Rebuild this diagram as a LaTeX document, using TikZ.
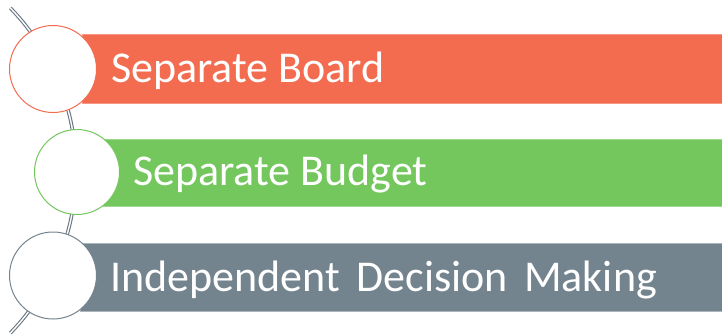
\documentclass[tikz,border=0pt]{standalone}
\usepackage{fontspec}
\setmainfont{Carlito}
\usetikzlibrary{calc}
\definecolor{cOrange}{RGB}{243,108,80}
\definecolor{cGreen}{RGB}{115,199,93}
\definecolor{cGray}{RGB}{116,132,142}
\definecolor{cLine}{RGB}{105,118,130}
\begin{document}
\begin{tikzpicture}[x=1pt,y=-1pt,
  bar/.style={rectangle, anchor=north west, inner sep=0pt, minimum height=#1, line width=0.4pt},
  dot/.style={circle, inner sep=0pt, minimum size=87pt, fill=white, line width=1pt, draw=#1},
  label/.style={anchor=base west, inner sep=0pt, text=white, font=\fontsize{44}{50}\selectfont},
  spine/.style={draw=cLine, line width=1.1pt, double=white, double distance=1.4pt}]
\useasboundingbox (0,0) rectangle (722,335);
% spine arc
\coordinate (ctr) at (-158,170.5);
\coordinate (top) at ($(ctr)+(-44:234)$);
\draw[spine] (top) arc[start angle=-44, end angle=44, radius=234] coordinate (bottom);
% bars
\node[bar=69pt, minimum width=640pt, fill=cOrange, draw=cOrange!70!white] (b1) at (82,34) {};
\node[bar=67pt, minimum width=619pt, fill=cGreen, draw=cGreen!70!white] (b2) at (103,139) {};
\node[bar=68pt, minimum width=642pt, fill=cGray, draw=cGray!60!white] (b3) at (80,243) {};
% circles
\node[dot=cOrange] (c1) at (53,69) {};
\node[dot=cGreen, minimum size=85pt] (c2) at (77,172) {};
\node[dot=cGray] (c3) at (53,275.5) {};
% labels
\node[label] (t1) at (111,82) {Separate Board};
\node[label] (t2) at (133,185) {Separate Budget};
\node[label] (t3) at (110,291) {Independent\hspace{0.15em} Decision\hspace{0.15em} Making};
\end{tikzpicture}
\end{document}
